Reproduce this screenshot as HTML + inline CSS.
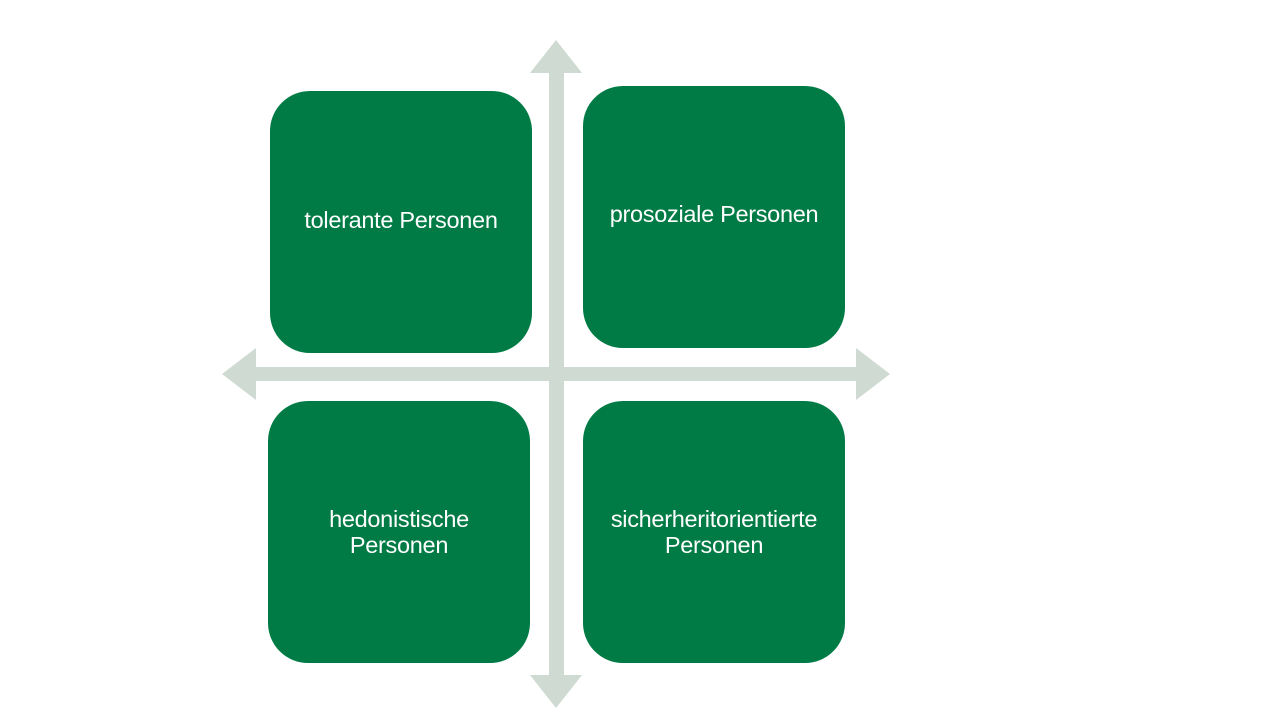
<!DOCTYPE html>
<html><head><style>
body{margin:0;width:1280px;height:720px;background:#fff;position:relative;overflow:hidden;font-family:"Liberation Sans",Arial,sans-serif}
.b{position:absolute;width:262px;height:262px;background:#007b45;border-radius:40px;color:#fff;font-size:23.5px;letter-spacing:-0.3px;display:flex;align-items:center;justify-content:center;text-align:center;line-height:26px}
</style></head><body>
<svg width="1280" height="720" style="position:absolute;left:0;top:0">
<g fill="#cfdad2">
<rect x="549" y="72" width="15" height="604"/>
<polygon points="556,40 582,73 530,73"/>
<polygon points="556,708 582,675 530,675"/>
<rect x="254" y="367" width="604" height="14"/>
<polygon points="222,374 256,348 256,400"/>
<polygon points="890,374 856,348 856,400"/>
</g>
</svg>
<div class="b" style="left:270px;top:91px;padding-bottom:4px;box-sizing:border-box">tolerante Personen</div>
<div class="b" style="left:583px;top:86px;padding-bottom:6px;box-sizing:border-box">prosoziale Personen</div>
<div class="b" style="left:268px;top:401px">hedonistische<br>Personen</div>
<div class="b" style="left:583px;top:401px">sicherheritorientierte<br>Personen</div>
</body></html>
